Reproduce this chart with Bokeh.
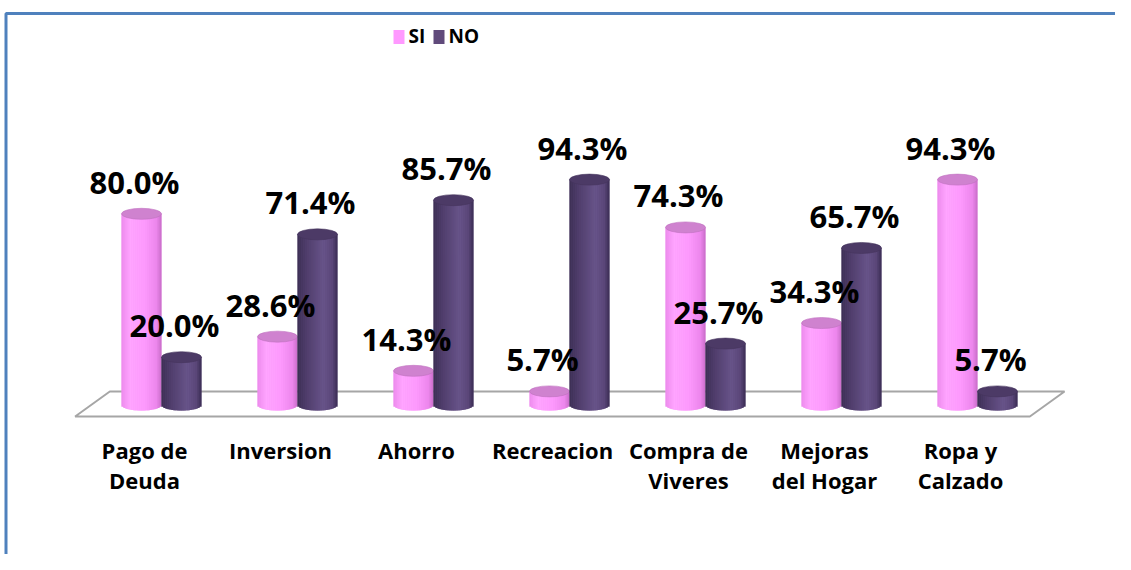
import numpy as np
from bokeh.plotting import figure
from bokeh.models import ColumnDataSource
from bokeh.core.properties import value
from bokeh.embed import file_html
from bokeh.resources import INLINE

# ---------------- data ----------------
categories = ["Pago de\nDeuda", "Inversion", "Ahorro", "Recreacion",
              "Compra de\nViveres", "Mejoras\ndel Hogar", "Ropa y\nCalzado"]
si_values = [80.0, 28.6, 14.3, 5.7, 74.3, 34.3, 94.3]
no_values = [20.0, 71.4, 85.7, 94.3, 25.7, 65.7, 5.7]
series_names = ["SI", "NO"]

# ---------------- layout / style ----------------
W, H = 1115, 554
KX, KY = 136.0, 2.39          # pixels per category unit / per percent
X0 = -144 / KX
X1 = X0 + W / KX
Y1 = 404.5 / KY
Y0 = Y1 - H / KY


def sx(px):
    return X0 + px / KX


def sy(py):
    return Y1 - py / KY


FONT = "Open Sans"
BW = 40 / KX                   # cylinder diameter (data units)
EH = 11 / KY                   # ellipse height (data units)
NS = 20                        # shading stripes per cylinder (2 px each)
SI_OFF = -3 / KX
NO_OFF = SI_OFF + BW
BASE_SHIFT = 0.42              # empirical alphabetic-baseline correction (em)

pink_stops = [(-1.0, (236, 138, 236)), (-0.55, (255, 165, 255)), (0.2, (253, 153, 253)),
              (0.75, (236, 134, 236)), (1.0, (200, 108, 200))]
purple_stops = [(-1.0, (60, 46, 84)), (-0.5, (80, 62, 108)), (0.3, (104, 84, 138)),
                (0.75, (90, 70, 120)), (1.0, (58, 44, 82))]
pink_mid, purple_mid = "#f694f6", "#5f4a7c"
pink_top, pink_top_line = "#cf82cf", "#c070c0"
purple_top, purple_top_line = "#4c3a66", "#45345d"
legend_colors = ["#ff99ff", "#604a7b"]
border_blue = "#4f81bd"
floor_gray = "#a6a6a6"


def shade(stops, t):
    ts = [s[0] for s in stops]
    rgb = [np.interp(t, ts, [s[1][c] for s in stops]) for c in range(3)]
    return "#%02x%02x%02x" % tuple(int(round(v)) for v in rgb)


p = figure(width=W, height=H, x_range=(X0, X1), y_range=(Y0, Y1),
           x_axis_type=None, y_axis_type=None, toolbar_location=None,
           output_backend="svg", min_border=0)
p.outline_line_color = None
p.background_fill_color = "white"
p.border_fill_color = "white"
for g in p.grid:
    g.visible = False

n = len(categories)
idx = np.arange(n)

# border (top and left of the original frame)
p.line(x=[X1, sx(5.5), sx(5.5)], y=[sy(13), sy(13), Y0], line_color=border_blue, line_width=3)

# floor (parallelogram)
fy_front, fy_back = sy(416), sy(391)
fshift = 0.255
fx_l, fx_r = -0.51, (n - 1) + 0.51
p.patch(x=[fx_l, fx_r, fx_r + fshift, fx_l + fshift], y=[fy_front, fy_front, fy_back, fy_back],
        fill_color="white", line_color=floor_gray, line_width=2)

# cylinders
for vals, off, stops, mid, tcol, tline in [
        (si_values, SI_OFF, pink_stops, pink_mid, pink_top, pink_top_line),
        (no_values, NO_OFF, purple_stops, purple_mid, purple_top, purple_top_line)]:
    cxs = list(idx + off)
    # solid underlayer so that stripe seams never show white
    p.vbar(x=cxs, bottom=0, top=vals, width=BW * 0.98, fill_color=mid, line_color=None)
    p.ellipse(x=cxs, y=[0] * n, width=BW * 0.98, height=EH, fill_color=mid, line_color=None)
    xs, bots, tops, cols = [], [], [], []
    for i, v in enumerate(vals):
        cx = i + off
        for k in range(NS):
            t = -1 + (2 * k + 1) / NS
            xs.append(cx + t * BW / 2)
            bots.append(-(EH / 2) * np.sqrt(max(0.0, 1 - t * t)))
            tops.append(v)
            cols.append(shade(stops, t))
    p.vbar(x=xs, bottom=bots, top=tops, width=BW / NS * 1.15, fill_color=cols, line_color=None)
    p.ellipse(x=cxs, y=vals, width=BW, height=EH,
              fill_color=tcol, line_color=tline, line_width=0.6)

# data labels
LFS = 31
lab_dx = -7 / KX
lab_dy = (19 + BASE_SHIFT * LFS) / KY
for vals, off in [(si_values, SI_OFF), (no_values, NO_OFF)]:
    src = ColumnDataSource(dict(x=list(idx + off + lab_dx),
                                y=[v + lab_dy for v in vals],
                                t=["%.1f%%" % v for v in vals]))
    p.text(x="x", y="y", text="t", source=src, text_align="center", text_baseline="alphabetic",
           text_font=value(FONT), text_font_style="bold", text_font_size=value("%dpx" % LFS),
           text_color="black")

# category labels
p.text(x=list(idx), y=[sy(434)] * n, text=categories, text_align="center", text_baseline="top",
       text_font=value(FONT), text_font_style="bold", text_font_size=value("22px"),
       text_line_height=1.0, text_color="black")

# legend (drawn as marks at fixed places)
GFS = 19
leg_sq_x = [398.5, 438.5]
leg_tx = [408, 448]
p.rect(x=[sx(v) for v in leg_sq_x], y=[sy(36.5)] * 2, width=11 / KX, height=14 / KY,
       fill_color=legend_colors, line_color=None)
p.text(x=[sx(v) for v in leg_tx], y=[sy(43.5 - BASE_SHIFT * GFS)] * 2, text=series_names,
       text_align="left", text_baseline="alphabetic", text_font=value(FONT),
       text_font_style="bold", text_font_size=value("%dpx" % GFS), text_color="black")

open("out.html", "w").write(file_html(p, INLINE))
